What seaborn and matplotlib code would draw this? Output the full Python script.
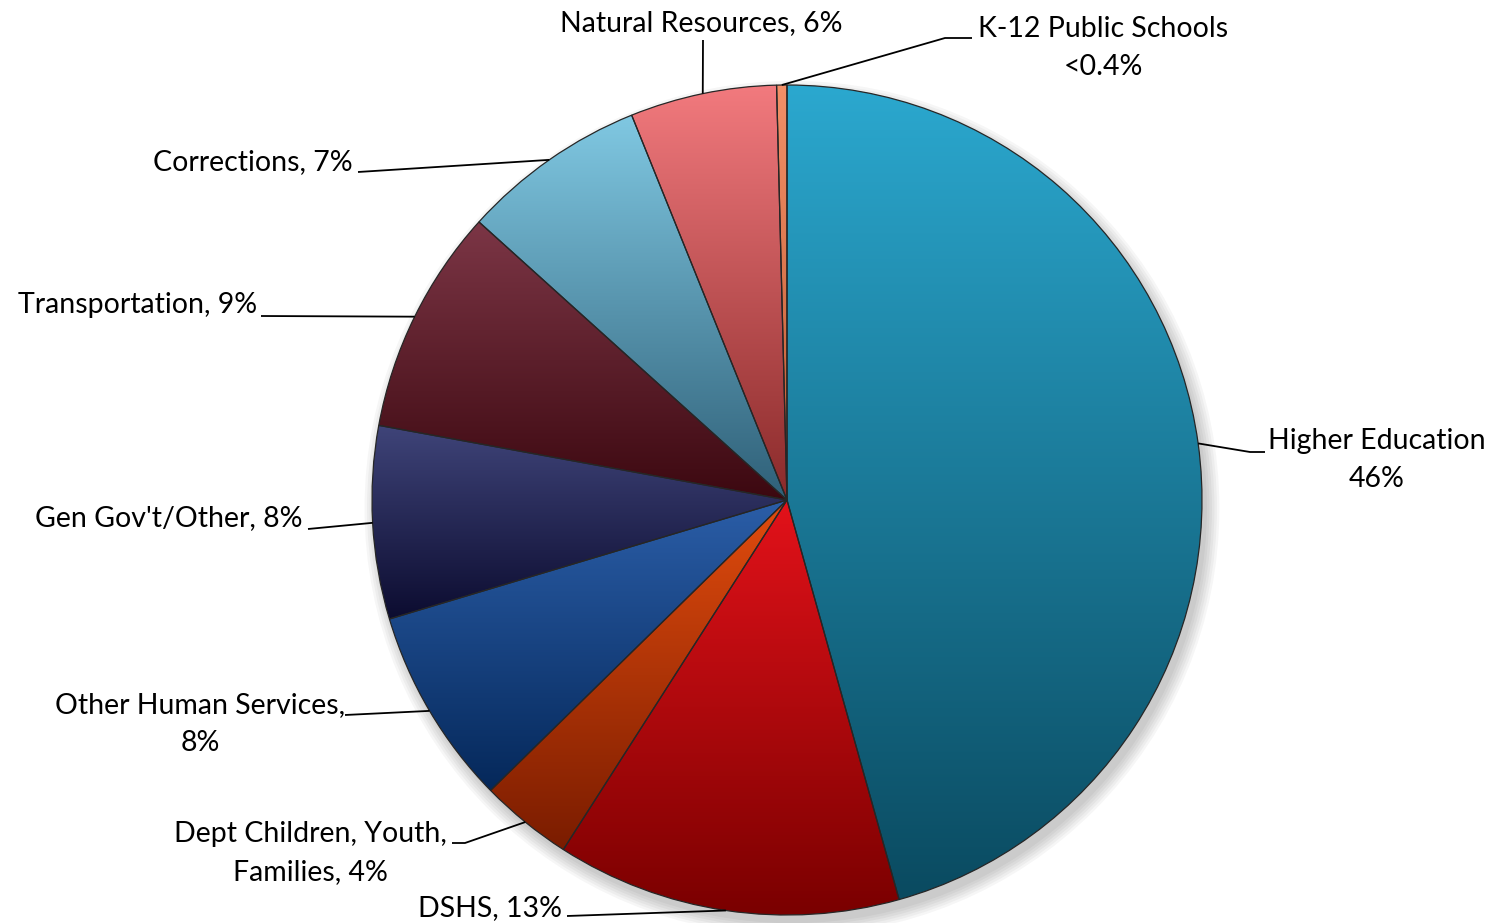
import numpy as np
import matplotlib
matplotlib.use("Agg")
import matplotlib.pyplot as plt
import matplotlib.colors as mcolors
import seaborn as sns

# clockwise from 12 o'clock
categories = ["Higher Education", "DSHS", "Dept Children, Youth, Families",
              "Other Human Services", "Gen Gov't/Other", "Transportation",
              "Corrections", "Natural Resources", "K-12 Public Schools"]
shares = [45.6, 13.4, 3.6, 7.7, 7.5, 8.8, 7.2, 5.7, 0.4]
label_texts = ["Higher Education\n46%", "DSHS, 13%", "Dept Children, Youth,\nFamilies, 4%",
               "Other Human Services,\n8%", "Gen Gov't/Other, 8%", "Transportation, 9%",
               "Corrections, 7%", "Natural Resources, 6%", "K-12 Public Schools\n<0.4%"]
top_colors = ["#2ba8cf", "#e3121a", "#e24c0e", "#2b5ea8", "#3f4479",
              "#7c3646", "#80c8e2", "#f27a7e", "#f39068"]
bottom_colors = ["#0a4a60", "#7a0000", "#7a1c00", "#05285a", "#0c0c30",
                 "#3c0810", "#2f6078", "#8a2a2a", "#c05a30"]

sns.set_style("white")
plt.rcParams["font.family"] = ["Lato", "DejaVu Sans"]

W, H = 1493, 923
CX, CY, R = 787, 500, 415


def to_data(x, y):
    return ((x - CX) / R, (CY - y) / R)


fig = plt.figure(figsize=(W / 100, H / 100), dpi=100)
ax = fig.add_axes([0, 0, 1, 1])

wedges, _ = ax.pie(shares, startangle=90, counterclock=False, radius=1,
                   colors=top_colors,
                   wedgeprops=dict(edgecolor="#262626", linewidth=0.9))

# soft shadow under the pie
for k in range(6):
    sh = plt.Circle((0.012, -0.02), 1.0 + 0.006 * k, color="#000000",
                    alpha=0.035, zorder=0.5, lw=0)
    ax.add_patch(sh)

# vertical gradient inside each slice
for w, c_top, c_bot in zip(wedges, top_colors, bottom_colors):
    ext = w.get_path().get_extents()
    t = np.linspace(0, 1, 256)[:, None]
    a = np.array(mcolors.to_rgb(c_top))
    b = np.array(mcolors.to_rgb(c_bot))
    grad = (a * (1 - t) + b * t)[:, None, :]
    grad = np.repeat(grad, 2, axis=1)
    im = ax.imshow(grad, extent=[ext.x0, ext.x1, ext.y0, ext.y1], origin="upper",
                   interpolation="bilinear", aspect="auto", zorder=2)
    im.set_clip_path(w)
    w.set_facecolor("none")
    w.set_zorder(3)

# label layout in pixels: (text x, text y, ha, leader path from slice edge)
layout = [
    (1268, 460, "left", [(1250, 452), (1265, 452)]),
    (562, 908, "right", [(567, 916)]),
    (447, 853, "right", [(465, 843), (452, 843)]),
    (345, 724, "right", [(345, 715)]),
    (303, 518, "right", [(308, 529)]),
    (257, 305, "right", [(261, 316)]),
    (353, 162, "right", [(358, 172)]),
    (701, 23, "center", [(703, 40)]),
    (978, 48, "left", [(945, 38), (972, 38)]),
]

for w, txt, (tx, ty, ha, path) in zip(wedges, label_texts, layout):
    mid = np.deg2rad((w.theta1 + w.theta2) / 2)
    pts = [(np.cos(mid), np.sin(mid))] + [to_data(*p) for p in path]
    xs, ys = zip(*pts)
    ax.plot(xs, ys, color="black", lw=1.3, zorder=4, solid_capstyle="butt")
    x, y = to_data(tx, ty)
    ax.text(x, y, txt, ha=ha, va="center", multialignment="center",
            fontsize=20.5, linespacing=1.6, color="black", zorder=5)

ax.set_xlim(-CX / R, (W - CX) / R)
ax.set_ylim(-(H - CY) / R, CY / R)
ax.set_aspect("auto")
ax.axis("off")

fig.savefig("out.png", dpi=100, facecolor="white")
